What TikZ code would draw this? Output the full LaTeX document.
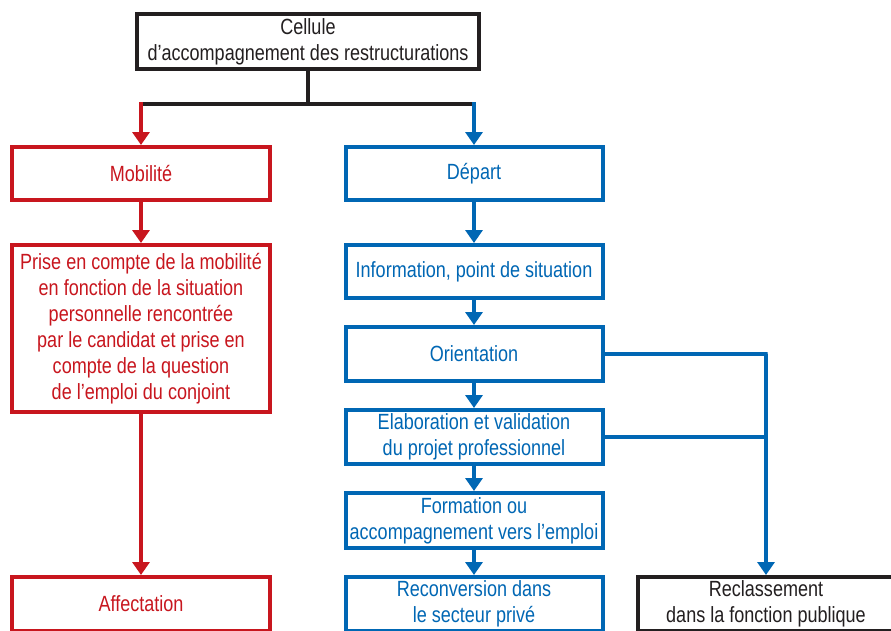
\documentclass[tikz,border=0pt]{standalone}
\usepackage{fontspec}
\setmainfont[FakeStretch=0.82]{Liberation Sans}
\usetikzlibrary{arrows.meta}
\definecolor{cred}{HTML}{C8161E}
\definecolor{cblue}{HTML}{0067B4}
\definecolor{cblack}{HTML}{231F20}
\begin{document}
\begin{tikzpicture}[x=1pt,y=-1pt,
  box/.style={draw, line width=4pt, inner sep=0pt, align=center,
    minimum width=258pt, font=\fontsize{22}{26}\selectfont},
  redbox/.style={box, draw=cred, text=cred},
  bluebox/.style={box, draw=cblue, text=cblue},
  blackbox/.style={box, draw=cblack, text=cblack},
  conn/.style={line width=4pt},
  arr/.style={conn, -{Triangle[width=17pt,length=13pt]}},
]
\useasboundingbox (0,0) rectangle (891,630);
\clip (0,0) rectangle (891,630);
\fill[white] (0,0) rectangle (891,630);

% top
\node[blackbox, minimum width=342pt, minimum height=55pt] (top) at (308,41.5)
  {Cellule\\d’accompagnement des restructurations};

% left column
\node[redbox, minimum height=53pt] (mob) at (141,173.5) {Mobilité};
\node[redbox, minimum height=167pt] (prise) at (141,328.5)
  {Prise en compte de la mobilité\\en fonction de la situation\\personnelle rencontrée\\par le candidat et prise en\\compte de la question\\de l’emploi du conjoint};
\node[redbox, minimum height=54pt] (aff) at (141,604) {Affectation};

% middle column
\node[bluebox, minimum width=257pt, minimum height=53pt] (dep) at (474,173.5) {Départ};
\node[bluebox, minimum width=257pt, minimum height=53pt] (info) at (474,271.5) {Information, point de situation};
\node[bluebox, minimum width=257pt, minimum height=54pt] (orient) at (474,354) {Orientation};
\node[bluebox, minimum width=257pt, minimum height=54pt] (elab) at (474,437)
  {Elaboration et validation\\du projet professionnel};
\node[bluebox, minimum width=257pt, minimum height=55pt] (form) at (474,520.5)
  {Formation ou\\accompagnement vers l’emploi};
\node[bluebox, minimum width=257pt, minimum height=54pt] (recon) at (474,604)
  {Reconversion dans\\le secteur privé};

% right
\node[blackbox, minimum width=256pt, minimum height=54pt] (recl) at (766,604)
  {Reclassement\\dans la fonction publique};

% top connectors
\coordinate (hub) at (308,104);
\coordinate (hl) at (141,104);
\coordinate (hr) at (474,104);
\draw[conn, cblack] (top.south) -- (hub);
\draw[conn, cblack, line cap=butt] ([xshift=-2pt]hl) -- ([xshift=2pt]hr);
\draw[arr, cred] ([yshift=2pt]hl) -- (mob.north);
\draw[arr, cblue] ([yshift=2pt]hr) -- (dep.north);

% left arrows
\draw[arr, cred] (mob.south) -- (prise.north);
\draw[arr, cred] (prise.south) -- (aff.north);

% middle arrows
\draw[arr, cblue] (dep.south) -- (info.north);
\draw[arr, cblue] (info.south) -- (orient.north);
\draw[arr, cblue] (orient.south) -- (elab.north);
\draw[arr, cblue] (elab.south) -- (form.north);
\draw[arr, cblue] (form.south) -- (recon.north);

% right branch
\coordinate (j1) at (766,354);
\coordinate (j2) at (766,437);
\draw[arr, cblue, line width=3.2pt] (orient.east) -- ([xshift=1.6pt]j1) -- ++(-1.6pt,0) -- (recl.north);
\draw[conn, cblue, line width=3.2pt] (elab.east) -- (j2);
\end{tikzpicture}
\end{document}
